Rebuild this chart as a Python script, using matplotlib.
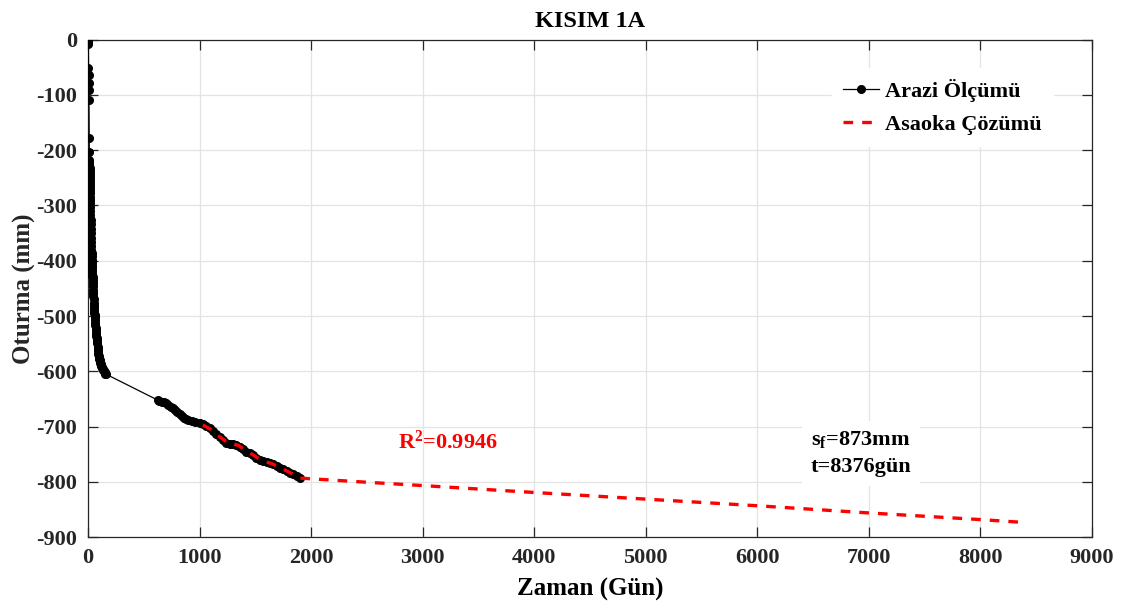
import matplotlib
matplotlib.use("Agg")
import matplotlib.pyplot as plt

# ---- data ----
t_meas = [0, 0, 1, 2, 3, 4, 5, 6, 7, 8, 10, 11, 12, 12.5, 13, 13.5, 14, 14.5, 15, 15.5,
          16, 16.5, 17, 17.5, 18, 18.5, 19, 19.5, 20, 21, 22, 23, 24, 25, 26, 27, 28,
          29, 30, 31, 32, 33, 34, 35, 36, 37, 38, 39, 40, 41, 42, 43.5, 45, 46.5, 48,
          49.5, 51, 52.5, 54, 55.5, 57, 58.5, 60, 62, 64, 66, 68, 70, 72, 74, 76, 78,
          80, 82, 85, 88, 90, 93, 96, 99, 102, 105, 108, 111, 114, 117, 120, 124, 128,
          132, 136, 140, 144, 148, 152, 156, 160,
          625, 640, 660, 680, 700, 720, 740, 760, 780, 800, 820, 840, 860, 880, 900,
          930, 960, 1000, 1030, 1060, 1090, 1120, 1150, 1180, 1210, 1240, 1270, 1300,
          1330, 1360, 1390, 1420, 1450, 1480, 1510, 1540, 1570, 1600, 1630, 1660,
          1690, 1720, 1750, 1780, 1810, 1840, 1870, 1900]
s_meas = [0, -3, -5, -7, -9, -52, -64, -79, -91, -109, -178, -203, -218, -223, -228, -233,
          -238, -243, -248, -253, -258, -263, -268, -273, -278, -284, -290, -296, -302,
          -310, -318, -326, -334, -342, -350, -358, -366, -373, -380, -386, -392, -398,
          -404, -409, -414, -419, -424, -427, -430, -435, -440, -446, -452, -458, -464,
          -470, -476, -481, -486, -490, -494, -498, -502, -507, -512, -517, -522, -527,
          -532, -536, -540, -543, -546, -549, -556, -560, -564, -568, -572, -575, -578,
          -580, -582, -584, -586, -588, -590, -592, -594, -595.5, -597, -598.5, -600,
          -601.5, -603, -604, -605,
          -652, -653, -655, -656, -658, -661, -664, -667, -670, -674, -677, -681, -684,
          -686, -688, -690, -692, -694, -696, -699, -703, -708, -714, -719, -724, -729,
          -731, -731, -733, -737, -741, -745, -748, -752, -757, -760, -762, -764, -766,
          -768, -771, -774, -777, -780, -783, -786, -789, -793]

t_asaoka = [1030, 1100, 1150, 1200, 1250, 1300, 1350, 1400, 1450, 1500, 1550, 1600,
            1650, 1700, 1750, 1800, 1850, 1900, 2500, 3000, 4000, 5000, 6000, 7000,
            8000, 8376]
s_asaoka = [-697, -705, -714, -721, -729, -731, -734, -741, -747, -754, -760, -764,
            -767, -772, -777, -782, -787, -793, -800.5, -806.5, -819, -831, -843,
            -856, -868, -873]

x_ticks = [0, 1000, 2000, 3000, 4000, 5000, 6000, 7000, 8000, 9000]
y_ticks = [0, -100, -200, -300, -400, -500, -600, -700, -800, -900]

title = "KISIM 1A"
xlabel = "Zaman (Gün)"
ylabel = "Oturma (mm)"
legend_labels = ["Arazi Ölçümü", "Asaoka Çözümü"]
r2_text = "R$^{\\mathbf{2}}$=0.9946"
info_text = "s$_{\\mathbf{f}}$=873mm\nt=8376gün"

# ---- style ----
plt.rcParams['font.family'] = ['Liberation Serif', 'DejaVu Serif']
plt.rcParams['font.weight'] = 'bold'
plt.rcParams['mathtext.fontset'] = 'custom'
plt.rcParams['mathtext.rm'] = 'Liberation Serif:bold'
plt.rcParams['mathtext.bf'] = 'Liberation Serif:bold'
plt.rcParams['mathtext.it'] = 'Liberation Serif:bold'

fig = plt.figure(figsize=(11.23, 6.06), dpi=100)
ax = fig.add_axes([0.0784, 0.1134, 0.8940, 0.8214])

ax.plot(t_meas, s_meas, color='black', lw=0.9, marker='o', markersize=5.5,
        markerfacecolor='black', markeredgecolor='black', label=legend_labels[0], zorder=3)
ax.plot(t_asaoka, s_asaoka, color='red', lw=2.4, linestyle=(0, (2.9, 2.7)),
        label=legend_labels[1], zorder=4)

ax.set_xlim(0, 9000)
ax.set_ylim(-900, 0)
ax.set_xticks(x_ticks)
ax.set_yticks(y_ticks)
ax.set_xticklabels([str(v) for v in x_ticks])
ax.set_yticklabels([str(v) for v in y_ticks])
ax.grid(True, color='#e3e3e3', lw=0.9, zorder=0)
ax.set_axisbelow(True)
ax.tick_params(direction='in', length=7, width=0.9, top=True, right=True,
               labelsize=16, colors='#262626', pad=8)
for lab in ax.get_xticklabels() + ax.get_yticklabels():
    lab.set_fontweight('bold')
for sp in ax.spines.values():
    sp.set_color('#262626')
    sp.set_linewidth(0.9)

ax.set_title(title, fontsize=17.5, fontweight='bold', pad=9)
ax.set_xlabel(xlabel, fontsize=18, fontweight='bold', labelpad=7)
ax.set_ylabel(ylabel, fontsize=18, fontweight='bold', labelpad=0, color='#262626')

leg = ax.legend(loc='upper left', bbox_to_anchor=(0.730, 0.965), frameon=True,
                fontsize=16, handlelength=1.6, handletextpad=0.3, labelspacing=0.55,
                borderpad=0.5)
leg.get_frame().set_edgecolor('white')
leg.get_frame().set_facecolor('white')
leg.get_frame().set_alpha(1.0)
for txt in leg.get_texts():
    txt.set_fontweight('bold')

ax.text(2780, -728, r2_text, color='red', fontsize=16, fontweight='bold',
        ha='left', va='center')
ax.text(6480, -748, info_text, color='black', fontsize=16, fontweight='bold',
        ha='left', va='center', linespacing=1.45,
        bbox=dict(facecolor='white', edgecolor='none', pad=6))

fig.savefig('out.png', dpi=100)
